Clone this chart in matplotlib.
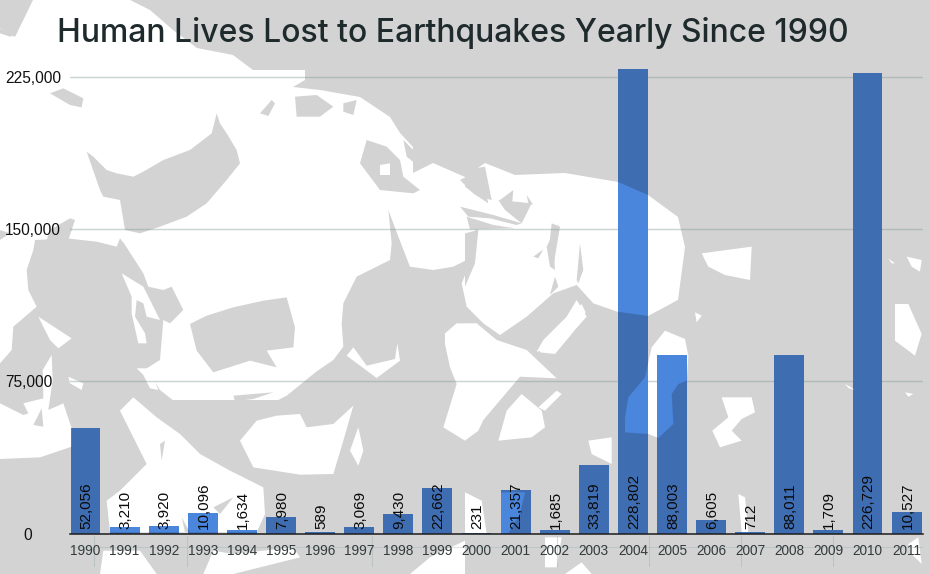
import matplotlib
matplotlib.use("Agg")
import matplotlib.pyplot as plt
from matplotlib.patches import Polygon
from matplotlib.lines import Line2D
from matplotlib.transforms import ScaledTranslation

# ---- data ----
years = ["1990","1991","1992","1993","1994","1995","1996","1997","1998","1999","2000",
         "2001","2002","2003","2004","2005","2006","2007","2008","2009","2010","2011"]
deaths = [52056,3210,3920,10096,1634,7980,589,3069,9430,22662,231,
          21357,1685,33819,228802,88003,6605,712,88011,1709,226729,10527]
y_ticks = [0,75000,150000,225000]
y_tick_labels = ["0","75,000","150,000","225,000"]
title = "Human Lives Lost to Earthquakes Yearly Since 1990"

GREY="#D3D3D3"; WHITE="#FFFFFF"; BAR_D="#3F6DB1"; BAR_L="#4A86DC"

W,H=930,574
fig=plt.figure(figsize=(W/100,H/100),dpi=100,facecolor=GREY)
bg=fig.add_axes([0,0,1,1],zorder=0); bg.set_xlim(0,W); bg.set_ylim(H,0); bg.axis("off")

# ---- decorative world-map backdrop, traced in picture pixels ----
def zm(ox,oy,pts): return [(ox+x/3,oy+y/3) for x,y in pts]
z1=lambda p:zm(0,0,p); z2=lambda p:zm(465,0,p); z3=lambda p:zm(0,284,p)
z4=lambda p:zm(465,284,p); z5=lambda p:zm(320,160,p); z6=lambda p:zm(0,240,p)

layers=[]
def white(p): layers.append((True,p))
def grey(p): layers.append((False,p))

# main land mass
white([(0,28),(15,37),(33,0),(130,0),(150,10),(173,30),(197,48),(233,55),(253,70),(305,70),(305,80),
       (293,87),(320,90),(360,97),(390,117),(400,133),(413,147),(413,173),(433,163),(465,177),(485,163),
       (515,175),(565,173),(618,182),(648,195),(678,217),(685,247),(678,300),(652,316),(617,320),(617,400),(0,400)])
# southern seas, everything below the coast chain
grey(z6([(0,370),(35,330),(40,260),(110,200),(85,150),(80,90),(100,30),(105,0),(200,-5),(290,5),(350,20),(360,-5),(372,10),
         (430,100),(445,140),(490,150),(515,140),(550,210),(510,250),(490,240),(480,360),(440,385),(480,450),(600,545)])
     +z3([(750,392),(860,335),(950,262),(1000,228)])
     +z5([(70,560),(65,490),(70,430),(110,350),(210,300),(215,250),(205,150),(235,230),(270,320),(340,330),(400,320),
          (440,300),(468,205),(472,210),(450,310),(425,370),(440,440),(490,490),(540,525),(620,470),(700,400),(770,375),(820,430),(892,455)])
     +[(648,316),(678,300),(700,290),(930,290),(930,574),(0,574)])
# grey seas and lakes in the north
grey(z1([(260,455),(300,570),(310,590),(360,600),(375,690),(420,700),(480,680),(560,650),(620,610),(680,540),(720,490),
         (710,450),(680,400),(660,370),(650,340),(635,400),(570,450),(490,480),(430,515),(400,530),(350,520),(320,510),(280,470)]))
grey(z3([(570,120),(620,95),(700,70),(790,50),(860,40),(885,130),(880,190),(800,200),(830,250),(750,230),(640,265),(590,200)]))
grey(z3([(590,375),(640,355),(650,370),(610,390)]))
grey(z3([(700,335),(820,325),(760,345),(705,352)]))
grey(z1([(150,280),(190,265),(250,295),(245,322),(210,315)]))
grey(z1([(0,85),(45,105),(30,110),(0,100)]))
grey(z1([(150,690),(210,655),(225,660),(205,720),(140,720)]))
grey(z1([(885,290),(950,285),(1000,320),(960,350),(890,350)]))
grey(z1([(780,340),(815,300),(825,310),(805,348)]))
grey(z1([(1030,310),(1070,300),(1060,345),(1030,335)]))
grey(z1([(1080,490),(1100,420),(1160,440),(1200,480),(1210,530),(1260,570),(1240,580),(1140,570)]))
grey(z1([(1210,420),(1240,450),(1245,490),(1220,470)]))
grey(z1([(0,720),(30,700),(0,690)]))
grey(z5([(420,60),(480,30),(505,130),(460,100)]))
grey(z5([(540,120),(580,90),(575,145),(545,135)]))
grey(z5([(420,140),(520,165),(605,190),(590,195),(510,175),(445,170)]))
grey(z5([(440,170),(520,195),(585,205),(450,208)]))
grey(z5([(715,190),(700,250),(705,330),(690,320),(680,260)]))
grey(z5([(780,250),(790,330),(775,370),(770,360)]))
grey(z5([(705,350),(715,380),(690,405),(695,385)]))
grey(z5([(640,290),(670,268),(655,295)]))
grey(z5([(620,105),(640,135),(625,130)]))
grey(z2([(0,510),(60,500),(80,600),(40,590),(0,560)]))
grey(z2([(100,600),(200,610),(170,670),(120,630)]))
grey(z2([(0,700),(40,690),(30,790),(0,860)]))
grey(z2([(260,670),(285,680),(265,800),(250,760)]))
# white islands and lands over the southern seas
white(z1([(1140,495),(1170,490),(1170,525),(1140,525)]))
white(z6([(0,490),(70,525),(85,520),(70,490),(130,475),(128,390),(155,345),(158,420),(145,510),(190,490),(215,565),(215,620),(120,652),(0,657)]))
grey(z6([(125,505),(130,560),(100,555)]))
white(z6([(115,230),(215,295),(175,325),(150,300)]))
white(z6([(205,410),(250,430),(245,450),(210,430)]))
white(z6([(365,100),(430,140),(480,240),(440,230),(430,190),(410,180),(405,230),(435,280),(440,310),(415,310),(395,220),(395,170)]))
white(z6([(410,385),(450,385),(475,450),(450,445),(430,405)]))
white(z3([(360,380),(400,340),(470,400),(540,450),(600,510),(690,560),(790,610),(795,690),(770,745),(330,745),(320,650),(360,620),(440,540),(420,500)]))
grey(z3([(640,670),(700,640),(660,690)]))
grey(z3([(480,480),(495,470),(485,530)]))
grey(z3([(555,745),(545,700),(570,745)]))
white(z3([(310,800),(420,800),(470,870),(300,870)]))
white(z3([(640,800),(700,810),(880,790),(900,820),(700,870),(610,870)]))
white(z3([(1230,870),(1290,820),(1395,770),(1395,870)]))
white(z3([(720,470),(770,410),(830,395),(900,390),(920,430),(1000,420),(1060,365),(1030,470),(1000,570),(900,572),(760,550)]))
white(z3([(1075,430),(1090,500),(1075,545),(1050,500)]))
white(z3([(1060,190),(1100,245),(1185,225),(1192,178),(1200,230),(1130,282),(1040,215)]))
white(z5([(375,520),(410,490),(470,490),(530,540),(620,570),(710,655),(600,650),(490,780)])
      +z4([(40,440),(0,470)])+z3([(1330,430),(1370,300),(1350,250),(1335,180)]))
white(z5([(770,420),(800,470),(720,560),(650,575),(670,540),(740,470)]))
white(z4([(225,185),(350,60),(362,85),(320,150),(270,210),(225,205)]))
white(z4([(100,470),(125,380),(170,330),(230,380),(240,430),(200,460)]))
white(z4([(275,320),(290,330),(240,380),(220,370)]))
white(z4([(560,190),(600,140),(660,165),(670,215),(665,290),(640,300),(620,330),(625,420),(580,462),(550,450),(480,445),(480,400),(490,340),(540,280)]))
white(z4([(690,85),(710,95),(695,115)]))
white(z4([(770,340),(860,340),(870,385),(830,405),(800,440),(830,470),(765,490),(742,440),(790,400)]))
white(z4([(1140,300),(1175,320),(1150,312)]))
white(z4([(1290,60),(1330,60),(1370,150),(1350,215),(1290,170)]))
white(z4([(1320,325),(1345,330),(1330,338)]))
white(z4([(370,470),(440,460),(440,540),(380,510)]))
white(z4([(0,625),(50,650),(65,748),(0,748)]))
white(z4([(108,625),(180,625),(165,690),(130,748),(108,748)]))
white(z4([(820,630),(840,640),(850,745),(830,745)]))
white(z4([(240,760),(290,760),(275,850),(240,850)]))
white(z4([(300,870),(350,835),(380,870)]))
white(z4([(1330,780),(1360,760),(1370,840),(1340,810)]))
white(z2([(710,760),(860,740),(855,840),(780,825),(730,800)]))
white(z2([(1270,775),(1290,790),(1280,790)]))
white(z2([(1325,770),(1370,780),(1365,815),(1340,800)]))

for is_w,p in layers:
    bg.add_patch(Polygon(p,closed=True,fc=WHITE if is_w else GREY,ec="none"))

# faint map graticule below the axis
for xp in [94.3,186.7,371.7,557,649,741,833]:
    bg.add_line(Line2D([xp,xp],[536,566],color="#9fb0b0",alpha=.45,lw=.8))
bg.add_line(Line2D([70,922],[546.5,546.5],color="#9fb0b0",alpha=.35,lw=.8))

# ---- chart ----
left,right,top,bottom=70,922.7,60,533.6
ax=fig.add_axes([left/W,1-bottom/H,(right-left)/W,(bottom-top)/H],zorder=2)
ax.patch.set_alpha(0)
x=list(range(len(years)))
px_per_x=39.1
xlim=(-(85.5-left)/px_per_x,(right-85.5)/px_per_x)
ylim=(0,(bottom-top)/152.3*75000)

ax.yaxis.grid(True,color="#7f9a9a",alpha=.42,lw=1.0); ax.set_axisbelow(True)
bars=ax.bar(x,deaths,width=.767,color=BAR_D,zorder=2)

# bars tint the map beneath them: pale over land, dark over the rest
for b in bars:
    for is_w,p in layers:
        poly=Polygon(p,closed=True,fc=BAR_L if is_w else BAR_D,ec="none",transform=bg.transData,zorder=2.1)
        ax.add_patch(poly)
        poly.set_clip_path(b)

for xi,v in zip(x,deaths):
    ax.annotate(f"{v:,}",(xi,0),xytext=(.7,3.5),textcoords="offset points",rotation=90,ha="center",va="bottom",
                fontsize=11,family="Liberation Sans",color="#0a0a0a",zorder=5)

ax.set_xlim(*xlim); ax.set_ylim(*ylim)
ax.set_xticks(x); ax.set_xticklabels(years)
ax.set_yticks(y_ticks); ax.set_yticklabels(y_tick_labels)
ax.tick_params(axis="x",length=0,pad=7.5,labelsize=9.8,labelcolor="#333a3c")
ax.tick_params(axis="y",length=0,pad=(left-5)/100*72,labelsize=11.2,labelcolor="#111111")
for t in ax.get_xticklabels()+ax.get_yticklabels(): t.set_family("Liberation Sans")
for t,lab in zip(ax.yaxis.get_major_ticks(),y_tick_labels):
    t.label1.set_ha("left")
    if lab=="0":
        t.label1.set_transform(t.label1.get_transform()+ScaledTranslation(18/100,0,fig.dpi_scale_trans))
for s in ["top","left","right"]: ax.spines[s].set_visible(False)
ax.spines["bottom"].set_color("#1c1c1c"); ax.spines["bottom"].set_linewidth(1.1)

fig.text(57/W,1-33/H,title,ha="left",va="center",fontsize=23,fontweight="medium",family="Inter",color="#1f2a2c",zorder=6)
fig.savefig("out.png",dpi=100,facecolor=GREY)
